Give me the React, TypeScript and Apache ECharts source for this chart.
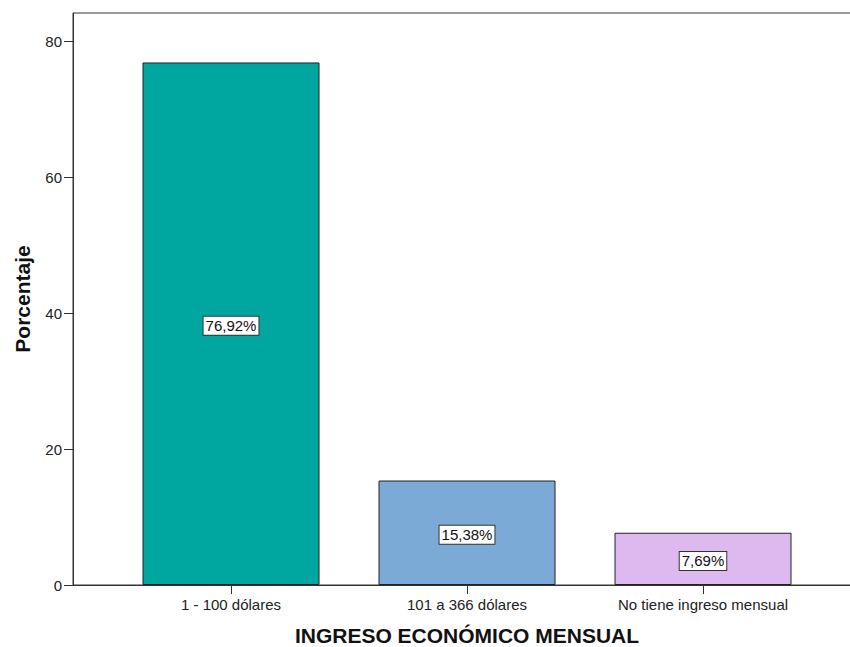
import React, { useEffect, useRef } from "react";
import * as echarts from "echarts";

const categories = ["1 - 100 dólares", "101 a 366 dólares", "No tiene ingreso mensual"];
const values = [76.92, 15.38, 7.69];
const labels = ["76,92%", "15,38%", "7,69%"];
const colors = ["#00A6A0", "#7BAAD6", "#DDB9EF"];
const yTicks = [0, 20, 40, 60, 80];

export default function App() {
  const ref = useRef<HTMLDivElement>(null);
  useEffect(() => {
    if (!ref.current) return;
    const chart = echarts.init(ref.current, undefined, { renderer: "svg" });
    const font = "Liberation Sans, Arial, sans-serif";
    chart.setOption({
      animation: false,
      backgroundColor: "#fff",
      textStyle: { fontFamily: font },
      grid: [
        { left: 73, right: -5, top: 13, bottom: 62, show: true, borderColor: "#333", borderWidth: 1, backgroundColor: "transparent", outerBoundsMode: "none", containLabel: false },
        { left: 113, right: 29, top: 13, bottom: 62, outerBoundsMode: "none", containLabel: false },
      ],
      xAxis: [
        { gridIndex: 0, type: "value", min: 0, max: 1, axisLine: { show: true, lineStyle: { color: "#333" } }, axisTick: { show: false }, axisLabel: { show: false }, splitLine: { show: false } },
        {
          gridIndex: 1,
          type: "category",
          data: categories,
          axisLine: { show: false },
          axisTick: { show: true, alignWithLabel: true, length: 9, lineStyle: { color: "#333" } },
          axisLabel: { color: "#222", fontSize: 15, margin: 12, fontFamily: font },
          name: "INGRESO ECONÓMICO MENSUAL",
          nameLocation: "middle",
          nameGap: 40,
          nameTextStyle: { fontSize: 21, fontWeight: "bold", color: "#111", fontFamily: font },
        },
      ],
      yAxis: [
        {
          gridIndex: 0,
          type: "value",
          min: 0,
          max: 84.2,
          interval: 20,
          axisLine: { show: true, lineStyle: { color: "#333" } },
          axisTick: { show: true, length: 9, lineStyle: { color: "#333" } },
          axisLabel: { color: "#222", fontSize: 15, margin: 11, fontFamily: font, showMaxLabel: false, formatter: (v: number) => (yTicks.includes(v) ? String(v) : "") },
          splitLine: { show: false },
          name: "Porcentaje",
          nameLocation: "middle",
          nameGap: 40,
          nameTextStyle: { fontSize: 21, fontWeight: "bold", color: "#111", fontFamily: font },
        },
        { gridIndex: 1, type: "value", min: 0, max: 84.2, show: false },
      ],
      series: [
        {
          type: "bar",
          xAxisIndex: 1,
          yAxisIndex: 1,
          barWidth: 177,
          data: values.map((v, i) => ({
            value: v,
            itemStyle: { color: colors[i], borderColor: "#222", borderWidth: 1 },
          })),
          label: {
            show: true,
            position: "inside",
            offset: [0, 2],
            formatter: (p: any) => labels[p.dataIndex],
            color: "#111",
            fontSize: 15,
            fontFamily: font,
            backgroundColor: "#fff",
            borderColor: "#333",
            borderWidth: 1,
            padding: [2, 2, 1, 2],
          },
        },
      ],
    });
    return () => chart.dispose();
  }, []);
  return <div ref={ref} style={{ width: 850, height: 647, position: "absolute", left: 0, top: 0 }} />;
}
